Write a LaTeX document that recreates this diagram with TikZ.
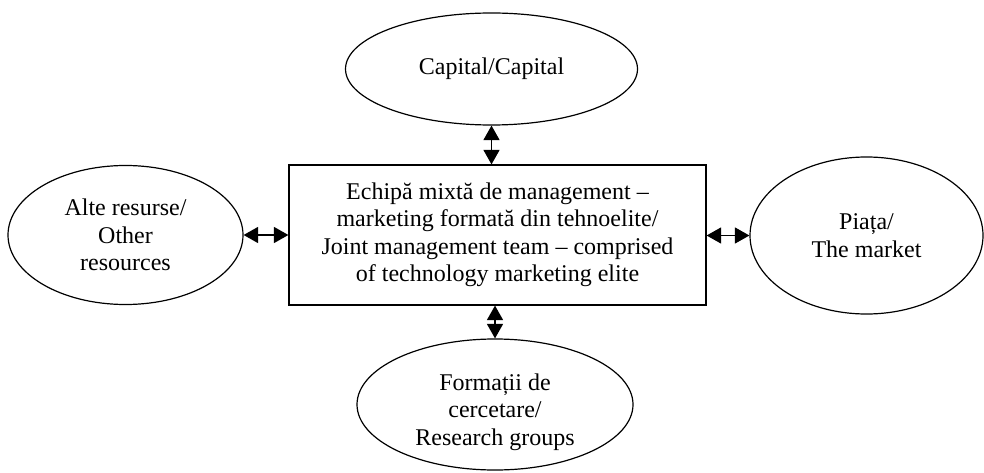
\documentclass[tikz,border=0pt]{standalone}
\usepackage{fontspec}
\setmainfont{Liberation Serif}
\usetikzlibrary{shapes.geometric,arrows.meta}
\begin{document}
\begin{tikzpicture}[x=1pt,y=-1pt,
  every node/.style={font=\fontsize{24}{27.5}\selectfont, align=center, inner sep=0pt},
  oval/.style={ellipse, draw, line width=1.2pt},
  teambox/.style={rectangle, draw, line width=1.2pt},
  link/.style={line width=1.4pt, arrows={Triangle[length=14.5pt,width=16pt]-Triangle[length=14.5pt,width=16pt]}}
]
\useasboundingbox (0,0) rectangle (984,473);
\node[oval, minimum width=292pt, minimum height=112pt] (cap) at (491.5,69) {Capital/Capital};
\node[teambox, minimum width=417pt, minimum height=140pt] (team) at (497.5,235) {Echipă mixtă de management –\\marketing formată din tehnoelite/\\Joint management team – comprised\\of technology marketing elite};
\node[oval, minimum width=235pt, minimum height=139pt] (other) at (125.5,235) {Alte resurse/\\Other\\resources};
\node[oval, minimum width=233pt, minimum height=157pt] (market) at (866.5,235.5) {Piața/\\The market};
\node[oval, minimum width=276pt, minimum height=131pt] (research) at (495,404.5) {};
\node (researchtext) at (495,412) {Formații de\\cercetare/\\Research groups};
\draw[link] (cap.south) -- (cap.south |- team.north);
\draw[link] (team.south -| research.north) -- (research.north);
\draw[link] (other.east) -- (other.east -| team.west);
\draw[link] (team.east |- market.west) -- (market.west);
\end{tikzpicture}
\end{document}
